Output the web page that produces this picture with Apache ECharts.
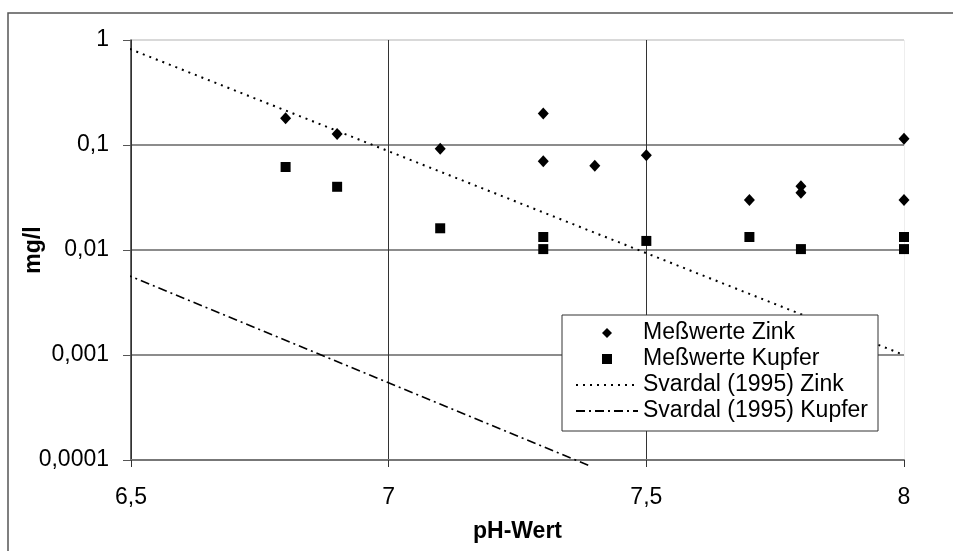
<!DOCTYPE html>
<html>
<head>
<meta charset="utf-8">
<script src="https://cdn.jsdelivr.net/npm/echarts@6/dist/echarts.min.js"></script>
<style>
  html, body { margin: 0; padding: 0; background: #fff; }
  #chart { width: 953px; height: 551px; }
</style>
</head>
<body>
<div id="chart"></div>
<script>
const zinkPH = [6.8, 6.9, 7.1, 7.3, 7.3, 7.4, 7.5, 7.7, 7.8, 7.8, 8, 8]
const zinkMgL = [0.18, 0.127, 0.092, 0.2, 0.07, 0.0635, 0.08, 0.03, 0.0404, 0.035, 0.115, 0.03]
const kupferPH = [6.8, 6.9, 7.1, 7.3, 7.3, 7.5, 7.7, 7.8, 8, 8]
const kupferMgL = [0.0617, 0.04, 0.0161, 0.0133, 0.0102, 0.0122, 0.0133, 0.0102, 0.0133, 0.0102]
const svardalZinkPH = [6.485, 8]
const svardalZinkMgL = [0.87, 0.001]
const svardalKupferPH = [6.485, 7.39]
const svardalKupferMgL = [0.006, 0.000088]
const xTickLabels = ['6,5', '7', '7,5', '8']
const yTickLabels = ['0,0001', '0,001', '0,01', '0,1', '1']

const font = '"Liberation Sans", Arial, sans-serif'
const pairs = (xs, ys) => xs.map((x, i) => [x, ys[i]])

// legend icons get stretched to itemWidth x itemHeight, so pad the path with empty
// sub-paths at both ends to keep the marker at its own size in the middle
const wideIcon = (shape) => 'path://M0,0L0,0M62,10L62,10' + shape
const diamondIcon = wideIcon('M31,0L36,5L31,10L26,5Z')
const squareIcon = wideIcon('M26,0L36,0L36,10L26,10Z')

const chart = echarts.init(document.getElementById('chart'))
chart.setOption({
  animation: false,
  textStyle: { fontFamily: font },
  graphic: [{
    type: 'rect',
    shape: { x: 8, y: 13, width: 980, height: 580 },
    style: { fill: 'none', stroke: '#555', lineWidth: 1.5 },
    silent: true,
  }],
  grid: { left: 131, top: 40, right: 49, bottom: 91 },
  legend: {
    orient: 'vertical',
    left: 562,
    top: 315,
    padding: [5, 10, 7, 13],
    itemWidth: 62,
    itemHeight: 10,
    itemGap: 0,
    itemTextGap: 6,
    backgroundColor: '#fff',
    borderColor: '#333',
    borderWidth: 1,
    textStyle: { fontFamily: font, fontSize: 23, lineHeight: 26, color: '#000' },
    data: [
      { name: 'Meßwerte Zink', icon: diamondIcon },
      { name: 'Meßwerte Kupfer', icon: squareIcon },
      { name: 'Svardal (1995) Zink', itemStyle: { opacity: 0 } },
      { name: 'Svardal (1995) Kupfer', itemStyle: { opacity: 0 } },
    ],
  },
  xAxis: {
    type: 'value',
    min: 6.5,
    max: 8,
    interval: 0.5,
    name: 'pH-Wert',
    nameLocation: 'middle',
    nameGap: 60,
    nameMoveOverlap: false,
    nameTextStyle: { fontFamily: font, fontSize: 23, fontWeight: 'bold', color: '#000' },
    axisLine: { show: true, lineStyle: { color: '#777', width: 2 } },
    axisTick: { show: true, length: 7, lineStyle: { color: '#333' } },
    axisLabel: {
      margin: 26,
      fontFamily: font,
      fontSize: 23,
      color: '#000',
      formatter: (v) => xTickLabels[Math.round((v - 6.5) / 0.5)],
    },
    splitLine: { show: true, lineStyle: { color: ['#333', '#333', '#333', '#eee'], width: 1 } },
  },
  yAxis: {
    type: 'log',
    logBase: 10,
    min: 0.0001,
    max: 1,
    name: 'mg/l',
    nameLocation: 'middle',
    nameGap: 86,
    nameMoveOverlap: false,
    nameTextStyle: { fontFamily: font, fontSize: 23, fontWeight: 'bold', color: '#000' },
    axisLine: { show: true, lineStyle: { color: '#333', width: 1.5 } },
    axisTick: { show: true, length: 8, lineStyle: { color: '#555' } },
    axisLabel: {
      margin: 22,
      fontFamily: font,
      fontSize: 23,
      color: '#000',
      formatter: (v) => yTickLabels[Math.round(Math.log10(v)) + 4],
    },
    splitLine: { show: true, lineStyle: { color: ['#777', '#666', '#666', '#666', '#ccc'], width: 1.5 } },
  },
  series: [
    {
      name: 'Svardal (1995) Zink',
      type: 'line',
      data: pairs(svardalZinkPH, svardalZinkMgL),
      showSymbol: false,
      clip: false,
      lineStyle: { color: '#000', width: 2, type: [2, 5] },
      itemStyle: { color: '#000' },
      z: 2,
    },
    {
      name: 'Svardal (1995) Kupfer',
      type: 'line',
      data: pairs(svardalKupferPH, svardalKupferMgL),
      showSymbol: false,
      clip: false,
      lineStyle: { color: '#000', width: 1.6, type: [9, 4, 2, 4] },
      itemStyle: { color: '#000' },
      z: 2,
    },
    {
      name: 'Meßwerte Zink',
      type: 'scatter',
      symbol: 'diamond',
      symbolSize: [11, 12],
      data: pairs(zinkPH, zinkMgL),
      itemStyle: { color: '#000', opacity: 1 },
      z: 3,
    },
    {
      name: 'Meßwerte Kupfer',
      type: 'scatter',
      symbol: 'rect',
      symbolSize: 10,
      data: pairs(kupferPH, kupferMgL),
      itemStyle: { color: '#000', opacity: 1 },
      z: 3,
    },
  ],
})
</script>
</body>
</html>
